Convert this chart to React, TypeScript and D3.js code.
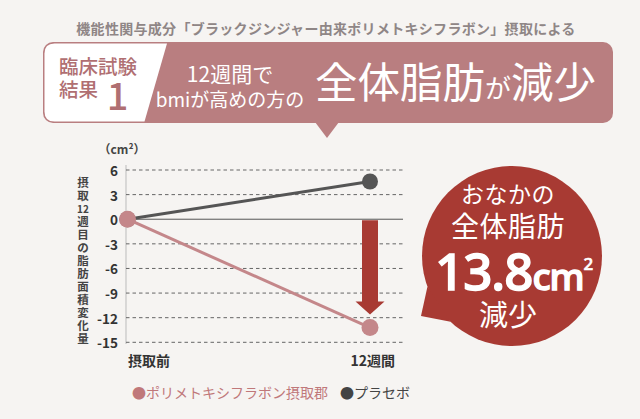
import React from "react";
import * as d3 from "d3";

const categories = ["摂取前", "12週間"];
const treatment = [0, -13.2];
const placebo = [0, 4.6];
const yTicks = [6, 3, 0, -3, -6, -9, -12, -15];
const yAxisTitle = ["摂", "取", "12", "週", "目", "の", "脂", "肪", "面", "積", "変", "化", "量"];
const arrowEnd = -11.6;

const FONT = "'Noto Sans CJK JP', 'Noto Sans', sans-serif";
const BG = "#f6f4f2";
const PINK = "#b97e80";
const LINE_PINK = "#c4878a";
const DARK = "#555555";
const RED = "#a83a33";

export default function App() {
  const W = 640, H = 419;
  const x = d3.scalePoint<string>().domain(categories).range([127.5, 370]);
  const y = d3.scaleLinear().domain([-15, 6]).range([342.3, 170]);
  const line = d3
    .line<number>()
    .x((_, i) => x(categories[i]) as number)
    .y((d) => y(d));

  const xEnd = x(categories[1]) as number;
  const aTop = y(0) + 1;
  const aTip = y(arrowEnd);
  const headH = 13;
  const arrowPath = `M${xEnd - 8},${aTop} L${xEnd + 8},${aTop} L${xEnd + 8},${aTip - headH} L${xEnd + 14.5},${aTip - headH} L${xEnd},${aTip} L${xEnd - 14.5},${aTip - headH} L${xEnd - 8},${aTip - headH} Z`;

  // bubble
  const cx = 512, cy = 256, R = 90;
  const ang = (deg: number) => [cx + R * Math.cos((deg * Math.PI) / 180), cy + R * Math.sin((deg * Math.PI) / 180)];
  const t1 = ang(160), t2 = ang(133);
  const tailPath = `M${t1[0]},${t1[1]} L421,316 L${t2[0]},${t2[1]} Z`;

  // banner
  const bx0 = 43, by0 = 42, bx1 = 613, by1 = 123, r = 10;
  const whitePath = `M${bx0 + 1.5 + r},${by0 + 1.5} L${168 - 1},${by0 + 1.5} L${145.5 - 1},${by1 - 1.5} L${bx0 + 1.5 + r},${by1 - 1.5} Q${bx0 + 1.5},${by1 - 1.5} ${bx0 + 1.5},${by1 - 1.5 - r} L${bx0 + 1.5},${by0 + 1.5 + r} Q${bx0 + 1.5},${by0 + 1.5} ${bx0 + 1.5 + r},${by0 + 1.5} Z`;

  return (
    <svg
      width={W}
      height={H}
      viewBox={`0 0 ${W} ${H}`}
      style={{ position: "absolute", left: 0, top: 0, display: "block" }}
      fontFamily={FONT}
    >
      <rect x={0} y={0} width={W} height={H} fill={BG} />

      {/* header title */}
      <text x={326} y={28} textAnchor="middle" dominantBaseline="central" fontSize={14} fontWeight={700} fill="#8f8686" letterSpacing={0.3}>
        機能性関与成分「ブラックジンジャー由来ポリメトキシフラボン」摂取による
      </text>

      {/* banner */}
      <rect x={bx0} y={by0} width={bx1 - bx0} height={by1 - by0} rx={r} ry={r} fill={PINK} />
      <path d={`M315,${by1 - 1} L339,${by1 - 1} L327,138 Z`} fill={PINK} />
      <path d={whitePath} fill="#ffffff" />
      <text x={59} y={65} dominantBaseline="central" fontSize={19.5} fontWeight={500} fill="#b06f72">臨床試験</text>
      <text x={59} y={88} dominantBaseline="central" fontSize={19.5} fontWeight={500} fill="#b06f72">結果</text>
      <text x={117.5} y={110} textAnchor="middle" fontSize={38} fontWeight={500} fill="#b06f72">1</text>

      <text x={230} y={73} textAnchor="middle" dominantBaseline="central" fontSize={21} fill="#ffffff">12週間で</text>
      <text x={230} y={98} textAnchor="middle" dominantBaseline="central" fontSize={19} fill="#ffffff">bmiが高めの方の</text>
      <text x={315} y={98} fontSize={42.5} fill="#ffffff">
        全体脂肪<tspan fontSize={26}>が</tspan>減少
      </text>

      {/* y axis unit */}
      <text x={122} y={148} textAnchor="middle" dominantBaseline="central" fontSize={12} fontWeight={700} fill="#444">（cm²）</text>

      {/* y axis title (vertical) */}
      {yAxisTitle.map((c, i) => (
        <text key={i} x={83} y={182 + i * 13} textAnchor="middle" dominantBaseline="central" fontSize={c.length > 1 ? 10 : 11.5} fontWeight={700} fill="#444">
          {c}
        </text>
      ))}

      {/* grid */}
      <line x1={126} x2={126} y1={165} y2={344} stroke="#bbb" strokeWidth={1} />
      {yTicks.map((t) => (
        <g key={t}>
          <line
            x1={126}
            x2={403}
            y1={y(t)}
            y2={y(t)}
            stroke={t === 0 ? "#555" : "#666"}
            strokeWidth={1}
            strokeDasharray={t === 0 ? undefined : "3.5 3"}
          />
          <text x={118} y={y(t)} textAnchor="end" dominantBaseline="central" fontSize={13.5} fontWeight={700} fill="#333">
            {t}
          </text>
        </g>
      ))}

      {/* x labels */}
      <text x={128} y={360} dominantBaseline="central" fontSize={14} fontWeight={700} fill="#333">{categories[0]}</text>
      <text x={395} y={360} textAnchor="end" dominantBaseline="central" fontSize={14} fontWeight={700} fill="#333">{categories[1]}</text>

      {/* arrow */}
      <path d={arrowPath} fill={RED} />

      {/* lines */}
      <path d={line(placebo) || ""} fill="none" stroke={DARK} strokeWidth={3} />
      <path d={line(treatment) || ""} fill="none" stroke={LINE_PINK} strokeWidth={3} />
      {placebo.map((v, i) => (
        <circle key={"p" + i} cx={x(categories[i]) as number} cy={y(v)} r={8} fill={DARK} />
      ))}
      {treatment.map((v, i) => (
        <circle key={"t" + i} cx={x(categories[i]) as number} cy={y(v)} r={8.5} fill={LINE_PINK} />
      ))}

      {/* bubble */}
      <circle cx={cx} cy={cy} r={R} fill={RED} />
      <path d={tailPath} fill={RED} />
      <text x={508} y={193} textAnchor="middle" dominantBaseline="central" fontSize={23} fill="#fff" letterSpacing={0.5}>おなかの</text>
      <text x={508} y={225} textAnchor="middle" dominantBaseline="central" fontSize={28} fill="#fff" letterSpacing={0.5}>全体脂肪</text>
      <text x={435} y={290} fontSize={51} fontWeight={500} fill="#fff" stroke="#fff" strokeWidth={1.4} fontFamily="'Noto Sans', sans-serif" letterSpacing={-1}>
        13.8<tspan fontSize={37}>cm</tspan><tspan fontSize={17} dy={-20} strokeWidth={0.6}>2</tspan>
      </text>
      <text x={508} y={313} textAnchor="middle" dominantBaseline="central" fontSize={29} fill="#fff">減少</text>

      {/* legend */}
      <text x={132} y={392} dominantBaseline="central" fontSize={14} fill="#c0787a">●ポリメトキシフラボン摂取郡</text>
      <text x={340} y={392} dominantBaseline="central" fontSize={14} fill="#444">●プラセボ</text>
    </svg>
  );
}
